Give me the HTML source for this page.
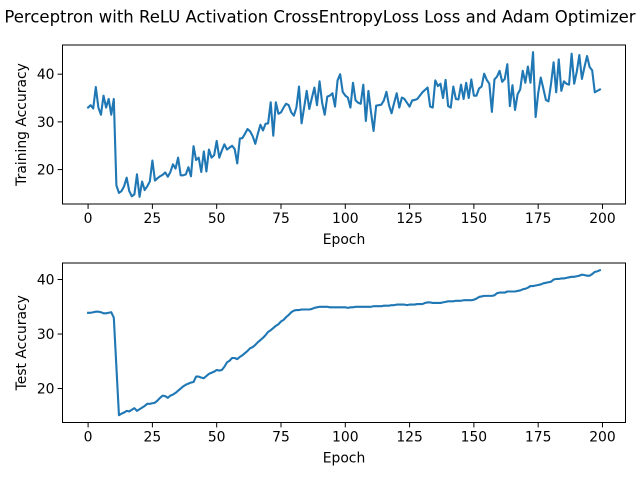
<!DOCTYPE html>
<html><head><meta charset="utf-8"><style>
html,body{margin:0;padding:0;background:#fff;}
svg{display:block;font-family:"DejaVu Sans","Liberation Sans",sans-serif;}
</style></head><body>
<svg id="chart" width="640" height="480" viewBox="0 0 640 480">
<rect x="0" y="0" width="640" height="480" fill="#fff"/>
<text x="320" y="22.5" text-anchor="middle" font-size="16.5" fill="#000">Perceptron with ReLU Activation CrossEntropyLoss Loss and Adam Optimizer</text>
<g id="top"></g>
<g id="bottom"></g>
</svg>
<script>
const trainAcc = [33.0,33.5,32.8,37.3,33.0,31.5,35.5,33.0,34.8,31.5,34.8,16.7,15.1,15.5,16.5,18.3,15.5,14.4,14.8,19.0,14.3,17.5,15.7,16.5,17.5,21.9,17.7,18.2,18.6,18.9,19.4,18.5,19.5,21.1,20.2,22.5,18.8,18.8,19.0,20.5,18.6,24.9,22.0,22.5,19.5,23.8,19.6,24.2,22.5,23.0,26.0,22.5,24.0,25.3,24.2,24.6,25.0,24.3,21.3,26.5,26.6,27.5,28.5,28.0,27.0,25.4,27.5,29.4,28.2,29.6,29.7,34.1,27.1,34.1,31.7,32.0,33.0,33.8,33.5,32.0,31.3,33.0,37.4,29.7,33.0,36.5,32.7,35.0,37.2,33.5,38.5,34.0,31.5,35.3,35.5,36.0,33.2,38.7,40.0,36.3,35.5,35.1,33.0,38.2,34.5,34.0,33.8,37.8,30.2,36.5,32.0,28.1,33.4,33.5,33.6,34.5,36.3,33.5,31.8,34.0,36.0,33.0,35.1,34.8,34.0,33.2,34.5,34.6,34.8,35.5,36.2,36.7,37.2,33.2,33.0,38.7,37.5,38.0,35.0,38.8,33.3,33.0,37.4,34.8,34.7,37.8,34.8,38.2,35.0,38.9,35.5,35.5,37.0,37.4,40.1,38.8,38.0,32.1,38.9,39.5,40.7,38.4,39.0,42.1,33.3,37.7,32.5,35.8,36.8,40.7,38.2,41.6,38.2,44.6,31.0,36.0,39.3,37.0,34.6,34.3,38.0,42.5,36.2,43.1,36.5,38.5,38.0,37.8,44.3,38.0,40.5,44.0,39.0,41.5,43.8,41.5,40.8,36.2,36.5,36.8];
const testAcc = [33.9,33.9,34.0,34.1,34.1,34.0,33.8,33.8,33.9,34.0,33.0,24.0,15.1,15.4,15.6,15.9,15.8,16.1,16.4,15.9,16.2,16.5,16.8,17.2,17.2,17.3,17.4,17.8,18.3,18.7,18.6,18.3,18.7,18.9,19.2,19.6,20.0,20.4,20.7,20.9,21.1,21.2,22.2,22.2,22.0,21.9,22.3,22.7,22.9,23.1,23.4,23.3,23.4,24.0,24.8,25.1,25.6,25.6,25.4,25.8,26.1,26.5,26.9,27.4,27.6,28.0,28.5,28.9,29.3,29.8,30.4,30.7,31.1,31.5,31.8,32.3,32.6,33.1,33.5,34.0,34.3,34.4,34.4,34.5,34.5,34.5,34.5,34.6,34.8,34.9,35.0,35.0,35.0,35.0,34.9,34.9,34.9,34.9,34.9,34.9,34.9,34.8,34.9,34.9,35.0,35.0,35.0,35.0,35.0,35.0,35.0,35.1,35.1,35.1,35.1,35.2,35.2,35.2,35.3,35.3,35.4,35.4,35.4,35.4,35.3,35.4,35.4,35.4,35.5,35.5,35.5,35.7,35.8,35.8,35.7,35.7,35.7,35.7,35.8,35.9,36.0,36.0,36.0,36.1,36.1,36.1,36.2,36.2,36.2,36.2,36.3,36.5,36.8,36.9,37.0,37.0,37.0,37.0,37.1,37.5,37.6,37.6,37.6,37.8,37.8,37.8,37.8,37.9,38.0,38.2,38.3,38.5,38.8,38.8,38.9,39.0,39.1,39.3,39.4,39.5,39.6,40.0,40.1,40.1,40.2,40.2,40.3,40.4,40.5,40.5,40.6,40.7,40.9,40.8,40.7,40.7,41.0,41.4,41.5,41.7];
const xTicks = [0,25,50,75,100,125,150,175,200];
const yTicksTop = [20,30,40];
const yTicksBottom = [20,30,40];

const NS = "http://www.w3.org/2000/svg";
function mk(parent, tag, attrs, text){
  const e = document.createElementNS(NS, tag);
  for (const k in attrs) e.setAttribute(k, attrs[k]);
  if (text !== undefined) e.textContent = text;
  parent.appendChild(e);
  return e;
}
function drawPanel(g, data, yTicks, box, ylabel, prefix){
  const n = data.length;
  const xmin = 0 - (n-1)*0.05, xmax = (n-1)*1.05;
  const dmin = Math.min(...data), dmax = Math.max(...data);
  const pad = (dmax-dmin)*0.05;
  const ymin = dmin - pad, ymax = dmax + pad;
  const xs = v => box.l + (v - xmin)/(xmax - xmin)*(box.r - box.l);
  const ys = v => box.b - (v - ymin)/(ymax - ymin)*(box.b - box.t);
  let d = "";
  data.forEach((v,i)=>{ d += (i? "L":"M") + xs(i).toFixed(2) + "," + ys(v).toFixed(2); });
  const line = mk(g, "path", {d:d, fill:"none", stroke:"#1f77b4", "stroke-width":"2.1", "stroke-linejoin":"round", "stroke-linecap":"square"});
  
  
  const fr = mk(g, "rect", {x:box.l, y:box.t, width:box.r-box.l, height:box.b-box.t, fill:"none", stroke:"#000", "stroke-width":"1"});
  
  
  xTicks.forEach(t=>{
    const x = xs(t);
    const tk = mk(g, "line", {x1:x, x2:x, y1:box.b, y2:box.b+4.9, stroke:"#000", "stroke-width":"1"});
    
    
    const lb = mk(g, "text", {x:x, y:box.b+19, "text-anchor":"middle", "font-size":"13.9", fill:"#000"}, String(t));
    
    
  });
  yTicks.forEach(t=>{
    const y = ys(t);
    const tk = mk(g, "line", {x1:box.l-4.9, x2:box.l, y1:y, y2:y, stroke:"#000", "stroke-width":"1"});
    
    
    const lb = mk(g, "text", {x:box.l-8, y:y+5, "text-anchor":"end", "font-size":"13.9", fill:"#000"}, String(t));
    
    
  });
  const xl = mk(g, "text", {x:(box.l+box.r)/2, y:box.b+40, "text-anchor":"middle", "font-size":"13.9", fill:"#000"}, "Epoch");
  
  
  const cy = (box.t+box.b)/2;
  const yl = mk(g, "text", {x:0, y:0, transform:"translate(26,"+cy+") rotate(-90)", "text-anchor":"middle", "font-size":"13.9", fill:"#000"}, ylabel);
  
  
}
drawPanel(document.getElementById("top"), trainAcc, yTicksTop, {l:62.5,r:625.5,t:45,b:204}, "Training Accuracy", "training");
drawPanel(document.getElementById("bottom"), testAcc, yTicksBottom, {l:62.5,r:625.5,t:263,b:422.5}, "Test Accuracy", "test");
</script>
</body></html>
